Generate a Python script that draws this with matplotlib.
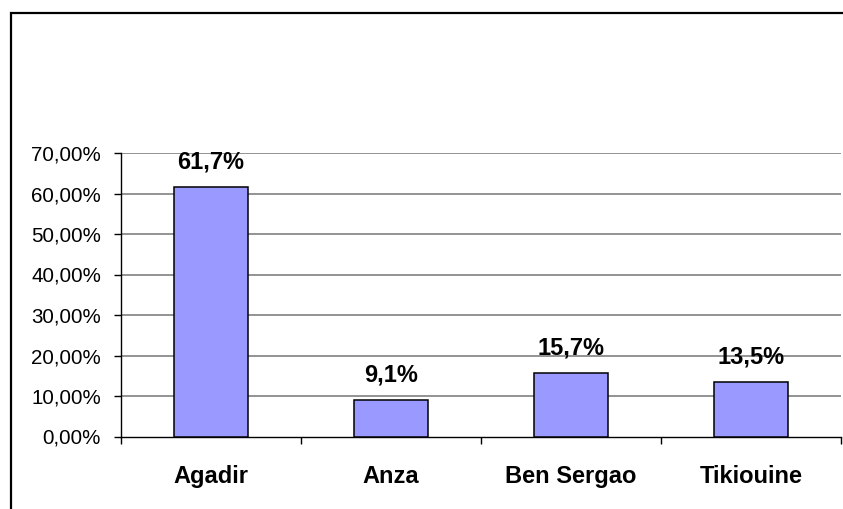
import matplotlib.pyplot as plt
from matplotlib.patches import Rectangle
from matplotlib.ticker import FixedLocator

plt.rcParams['font.family'] = ['Liberation Sans', 'DejaVu Sans']

villes = ['Agadir', 'Anza', 'Ben Sergao', 'Tikiouine']
parts = [61.7, 9.1, 15.7, 13.5]
etiquettes = ['61,7%', '9,1%', '15,7%', '13,5%']
yticks = [0, 10, 20, 30, 40, 50, 60, 70]
ytick_labels = ['0,00%', '10,00%', '20,00%', '30,00%', '40,00%', '50,00%', '60,00%', '70,00%']

fig = plt.figure(figsize=(8.43, 5.09), dpi=100)
# cadre noir du graphique (gauche et haut seulement visibles)
fig.patches.append(Rectangle((11 / 843, -0.5), 2, 0.5 + 1 - 13 / 509, transform=fig.transFigure,
                             fill=False, edgecolor='black', linewidth=1.6))
ax = fig.add_axes([121 / 843, 72.5 / 509, 720 / 843, 283.5 / 509])

x = range(len(villes))
ax.bar(x, parts, width=0.41, color='#9999FF', edgecolor='black', linewidth=1.1, zorder=3)
for i, v in enumerate(parts):
    ax.annotate(etiquettes[i], (i, v), xytext=(0, 13), textcoords='offset points',
                ha='center', va='baseline', fontsize=17, fontweight='bold', zorder=4)

ax.set_xlim(-0.5, 3.5)
ax.set_ylim(0, 70)
ax.set_yticks(yticks)
ax.set_yticklabels(ytick_labels, fontsize=14.8)
ax.set_xticks(list(x))
ax.set_xticklabels(villes, fontsize=17, fontweight='bold')
ax.xaxis.set_minor_locator(FixedLocator([-0.5, 0.5, 1.5, 2.5, 3.5]))
ax.tick_params(axis='x', which='major', length=0, pad=20.5)
ax.tick_params(axis='x', which='minor', length=5, width=1, direction='out')
ax.tick_params(axis='y', length=5, width=1, direction='out', pad=9.4)

for y in yticks[1:]:
    ax.axhline(y, color='#808080', linewidth=1.2, zorder=1)

for s in ['top', 'right']:
    ax.spines[s].set_visible(False)
ax.spines['left'].set_linewidth(1)
ax.spines['bottom'].set_linewidth(1)

fig.savefig('out.png', dpi=100)
